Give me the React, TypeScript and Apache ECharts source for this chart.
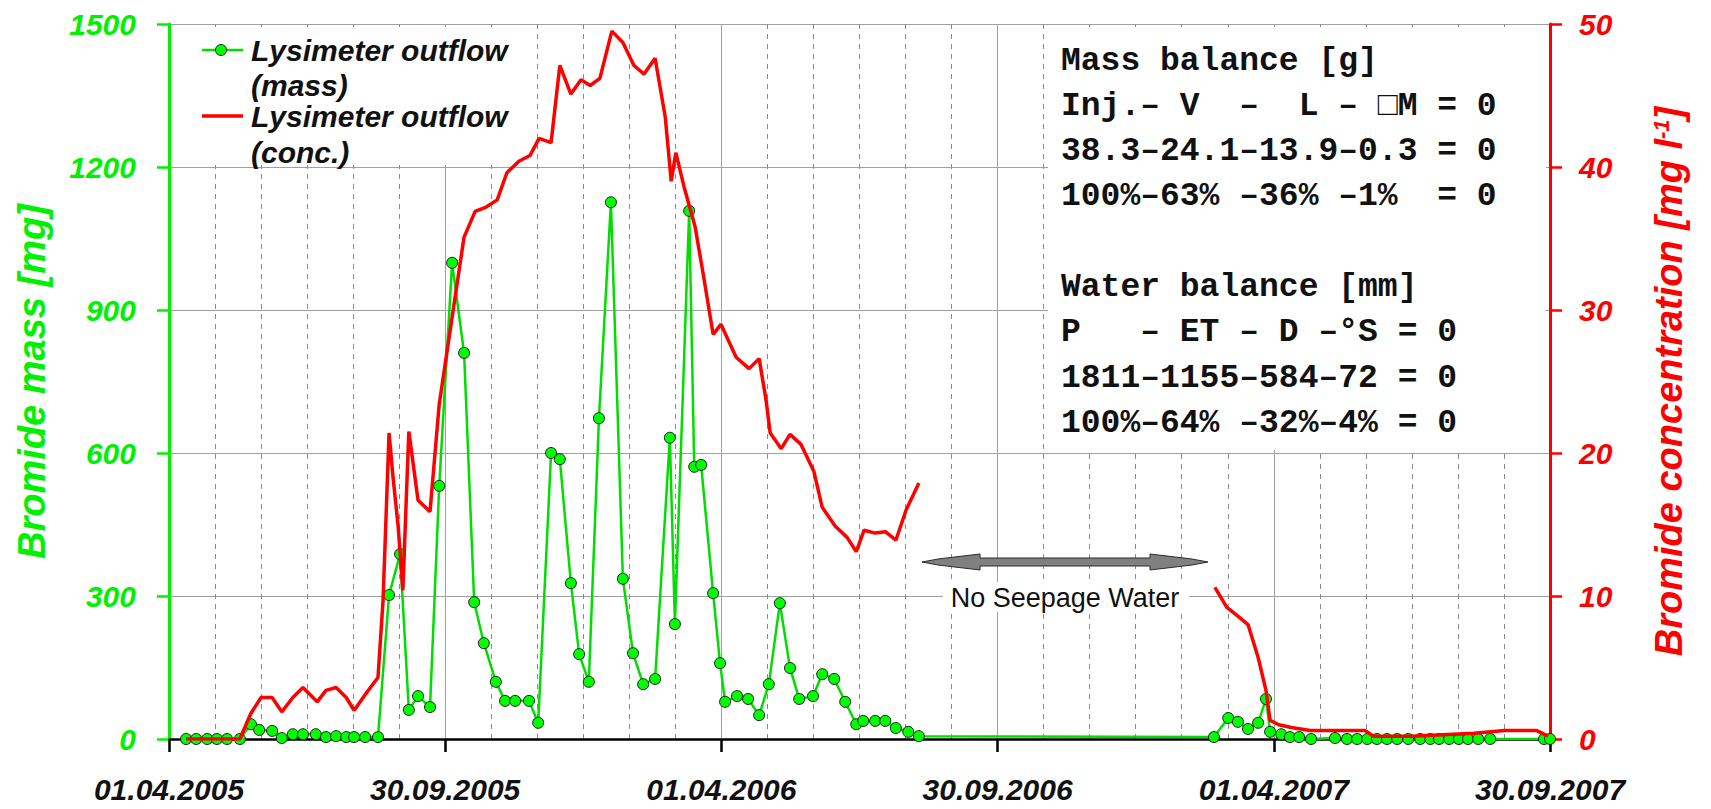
import React, { useEffect, useRef } from 'react';
import * as echarts from 'echarts';

// ---------- axes ----------
const monthTicks = [0, 6, 12, 18, 24, 30]; // months since 01.04.2005
const tickLabels = ['01.04.2005', '30.09.2005', '01.04.2006', '30.09.2006', '01.04.2007', '30.09.2007'];
const massAxis = { min: 0, max: 1500, step: 300 };
const concAxis = { min: 0, max: 50, step: 10 };

// ---------- series: [months since 01.04.2005, value] ----------
const massOutflow: [number, number][] = [
  [0.37, 0], [0.59, 0], [0.83, 0], [1.04, 0], [1.26, 0], [1.54, 0], [1.78, 31], [1.96, 19], [2.24, 17],
  [2.45, 2], [2.69, 10], [2.91, 10], [3.19, 10], [3.41, 4], [3.63, 6], [3.85, 4], [4.02, 4], [4.26, 4],
  [4.54, 4], [4.78, 302], [5.02, 388], [5.21, 61], [5.41, 90], [5.67, 67], [5.87, 531], [6.15, 999],
  [6.41, 810], [6.63, 287], [6.84, 201], [7.1, 120], [7.3, 80], [7.52, 80], [7.82, 80], [8.02, 34],
  [8.3, 600], [8.49, 587], [8.73, 327], [8.91, 178], [9.12, 120], [9.34, 673], [9.6, 1126], [9.86, 336],
  [10.08, 180], [10.3, 115], [10.56, 126], [10.88, 632], [10.99, 241], [11.3, 1108], [11.41, 571],
  [11.56, 575], [11.82, 306], [11.97, 159], [12.08, 78], [12.34, 90], [12.58, 84], [12.82, 50],
  [13.03, 115], [13.27, 285], [13.49, 149], [13.69, 84], [13.99, 90], [14.19, 136], [14.45, 126],
  [14.69, 78], [14.93, 31], [15.08, 38], [15.34, 38], [15.56, 38], [15.79, 23], [16.06, 15], [16.29, 6],
  [22.7, 4], [23.01, 44], [23.22, 36], [23.44, 21], [23.66, 34], [23.83, 84], [23.92, 15], [24.16, 10],
  [24.35, 4], [24.55, 4], [24.81, 0], [25.33, 2], [25.59, 0], [25.81, 0], [26.03, 0], [26.24, 0],
  [26.46, 0], [26.68, 0], [26.92, 0], [27.18, 0], [27.4, 0], [27.59, 0], [27.81, 0], [28.02, 0],
  [28.22, 0], [28.44, 0], [28.7, 0], [29.87, 0], [30, 0],
];

const concOutflow2005: [number, number][] = [
  [0.37, 0], [1.54, 0], [1.78, 1.8], [2.0, 2.9], [2.24, 2.9], [2.45, 1.9], [2.69, 2.9], [2.91, 3.6],
  [3.22, 2.6], [3.41, 3.4], [3.63, 3.6], [3.85, 2.9], [4.02, 2.0], [4.26, 3.1], [4.54, 4.3], [4.65, 9.7],
  [4.78, 21.4], [4.87, 18.2], [4.98, 14.8], [5.08, 10.4], [5.21, 21.5], [5.41, 16.7], [5.67, 15.9],
  [5.87, 23.4], [6.15, 29.5], [6.41, 35.1], [6.65, 36.9], [6.89, 37.2], [7.13, 37.7], [7.34, 39.6],
  [7.6, 40.4], [7.84, 40.8], [8.04, 42.0], [8.3, 41.7], [8.49, 47.1], [8.73, 45.1], [8.95, 46.1],
  [9.15, 45.7], [9.36, 46.2], [9.62, 49.5], [9.86, 48.7], [10.1, 47.1], [10.32, 46.5], [10.56, 47.6],
  [10.78, 43.5], [10.91, 39.0], [11.01, 41.0], [11.19, 38.6], [11.43, 35.8], [11.6, 32.6], [11.82, 28.3],
  [11.99, 29.0], [12.32, 26.7], [12.6, 25.9], [12.82, 26.6], [12.97, 23.7], [13.06, 21.4], [13.3, 20.3],
  [13.49, 21.3], [13.73, 20.6], [14.01, 18.7], [14.19, 16.2], [14.47, 14.9], [14.73, 14.1], [14.93, 13.1],
  [15.1, 14.6], [15.34, 14.4], [15.56, 14.5], [15.79, 13.9], [16.01, 16.0], [16.29, 17.9],
];

const concOutflow2007: [number, number][] = [
  [22.72, 10.6], [22.98, 9.2], [23.18, 8.7], [23.44, 8.0], [23.66, 5.7], [23.83, 3.4], [23.92, 1.3],
  [24.11, 1.0], [24.38, 0.8], [24.79, 0.6], [25.31, 0.6], [25.57, 0.6], [25.98, 0.6], [26.16, 0.2],
  [27.0, 0.2], [28.35, 0.4], [29.02, 0.6], [29.7, 0.6], [29.96, 0.2],
];

// ---------- annotation texts ----------
const legendNames = ['Lysimeter outflow', '(mass)', 'Lysimeter outflow', '(conc.)'];
const massBalanceLines = [
  'Mass balance [g]',
  'Inj.– V  –  L – □M = 0',
  '38.3–24.1–13.9–0.3 = 0',
  '100%–63% –36% –1%  = 0',
];
const waterBalanceLines = [
  'Water balance [mm]',
  'P   – ET – D –°S = 0',
  '1811–1155–584–72 = 0',
  '100%–64% –32%–4% = 0',
];
const gapLabel = 'No Seepage Water';

const GREEN = '#00f000';
const RED = '#ff0000';
const SANS = '"Liberation Sans", Arial, sans-serif';
const MONO = '"Liberation Mono", "Courier New", monospace';

const nb = (s: string) => s.replace(/ /g, '\u00A0');

function buildGraphic() {
  const els: any[] = [];
  // white backgrounds (cover grid lines)
  els.push({ type: 'rect', z: 1, shape: { x: 172, y: 27, width: 341, height: 138 }, style: { fill: '#fff' } });
  els.push({ type: 'rect', z: 1, shape: { x: 1048, y: 27, width: 498, height: 423 }, style: { fill: '#fff' } });
  els.push({ type: 'rect', z: 1, shape: { x: 943, y: 582, width: 246, height: 30 }, style: { fill: '#fff' } });

  // legend
  els.push({ type: 'line', z: 10, shape: { x1: 202, y1: 50, x2: 243, y2: 50 }, style: { stroke: '#00dd00', lineWidth: 2.5 } });
  els.push({ type: 'circle', z: 11, shape: { cx: 221, cy: 50, r: 5.5 }, style: { fill: '#00ff00', stroke: '#1a1a1a', lineWidth: 1 } });
  els.push({ type: 'line', z: 10, shape: { x1: 202, y1: 116, x2: 243, y2: 116 }, style: { stroke: RED, lineWidth: 3.5 } });
  const legendY = [50, 85.5, 116.5, 152];
  legendNames.forEach((t, i) => {
    els.push({
      type: 'text', z: 12, x: 251, y: legendY[i],
      style: {
        text: t, fill: '#111', font: `italic bold 30px ${SANS}`,
        textAlign: 'left', textVerticalAlign: 'middle', align: 'left', verticalAlign: 'middle',
      },
    });
  });

  // balance box text
  const lines = [...massBalanceLines, '', ...waterBalanceLines];
  lines.forEach((t, i) => {
    if (!t) return;
    els.push({
      type: 'text', z: 12, x: 1061, y: 61 + i * 45.3,
      style: {
        text: nb(t), fill: '#111', font: `bold 33px ${MONO}`,
        textAlign: 'left', textVerticalAlign: 'middle', align: 'left', verticalAlign: 'middle',
      },
    });
  });

  // double arrow
  els.push({
    type: 'polygon', z: 10,
    shape: {
      points: [
        [922, 562], [938, 559], [980, 554], [980, 558], [1150, 558], [1150, 554], [1192, 559], [1208, 562],
        [1192, 565], [1150, 570], [1150, 566], [980, 566], [980, 570], [938, 565],
      ],
    },
    style: { fill: '#808080', stroke: '#2a2a2a', lineWidth: 1 },
  });
  els.push({
    type: 'text', z: 12, x: 1065, y: 598,
    style: {
      text: gapLabel, fill: '#111', font: `27px ${SANS}`,
      textAlign: 'center', textVerticalAlign: 'middle', align: 'center', verticalAlign: 'middle',
    },
  });
  return els;
}

export default function App() {
  const ref = useRef<HTMLDivElement>(null);
  useEffect(() => {
    const chart = echarts.init(ref.current!, null, { renderer: 'svg' });
    const boldItalic = { fontWeight: 'bold', fontStyle: 'italic', fontFamily: SANS };
    chart.setOption({
      animation: false,
      backgroundColor: '#fff',
      grid: { left: 169, right: 161, top: 24, bottom: 70, containLabel: false, outerBoundsMode: 'none' },
      xAxis: {
        type: 'value', min: 0, max: 30, interval: 6, position: 'bottom',
        axisLine: { show: true, onZero: false, lineStyle: { color: '#000', width: 2.5 } },
        axisTick: { show: true, length: 13, lineStyle: { color: '#000', width: 2.5 } },
        minorTick: { show: false, splitNumber: 6 },
        axisLabel: {
          show: true, margin: 35, fontSize: 30, color: '#111', ...boldItalic,
          formatter: (v: number) => {
            const i = monthTicks.indexOf(Math.round(v));
            return i >= 0 ? tickLabels[i] : '';
          },
        },
        splitLine: { show: true, lineStyle: { color: '#a0a0a0', width: 1 } },
        minorSplitLine: { show: true, lineStyle: { color: '#8a8a8a', width: 1, type: [5, 5] } },
      },
      yAxis: [
        {
          type: 'value', min: massAxis.min, max: massAxis.max, interval: massAxis.step, position: 'left',
          name: 'Bromide mass [mg]', nameLocation: 'middle', nameRotate: 90, nameGap: 118,
          nameTextStyle: { color: GREEN, fontSize: 38, ...boldItalic },
          axisLine: { show: true, onZero: false, lineStyle: { color: GREEN, width: 3 } },
          axisTick: { show: true, length: 12, lineStyle: { color: GREEN, width: 2.5 } },
          axisLabel: { color: GREEN, fontSize: 30, margin: 33, ...boldItalic, formatter: (v: number) => String(v) },
          splitLine: { show: true, lineStyle: { color: '#a0a0a0', width: 1 } },
        },
        {
          type: 'value', min: concAxis.min, max: concAxis.max, interval: concAxis.step, position: 'right',
          name: 'Bromide concentration [mg l{sup|-1}]', nameLocation: 'middle', nameRotate: 90, nameGap: 100,
          nameTextStyle: {
            color: RED, fontSize: 38, ...boldItalic,
            rich: { sup: { color: RED, fontSize: 22, ...boldItalic, verticalAlign: 'top' } },
          },
          axisLine: { show: true, onZero: false, lineStyle: { color: RED, width: 3 } },
          axisTick: { show: true, length: 12, lineStyle: { color: RED, width: 2.5 } },
          axisLabel: { color: RED, fontSize: 30, margin: 29, ...boldItalic, formatter: (v: number) => String(v) },
          splitLine: { show: false },
        },
      ],
      series: [
        {
          type: 'line', name: 'Lysimeter outflow (mass)', xAxisIndex: 0, yAxisIndex: 0, data: massOutflow,
          symbol: 'circle', symbolSize: 11, showSymbol: true, z: 3,
          itemStyle: { color: '#00ff00', borderColor: '#1a1a1a', borderWidth: 1 },
          lineStyle: { color: '#00dd00', width: 2.5 },
        },
        {
          type: 'line', name: 'Lysimeter outflow (conc.)', xAxisIndex: 0, yAxisIndex: 1, data: concOutflow2005,
          symbol: 'none', z: 4, lineStyle: { color: RED, width: 3.5 },
        },
        {
          type: 'line', name: 'Lysimeter outflow (conc.) 2007', xAxisIndex: 0, yAxisIndex: 1, data: concOutflow2007,
          symbol: 'none', z: 4, lineStyle: { color: RED, width: 3.5 },
        },
      ],
      graphic: { elements: buildGraphic() },
    });
    return () => chart.dispose();
  }, []);
  return (
    <div
      ref={ref}
      style={{ position: 'fixed', left: 0, top: 0, width: '1711px', height: '809px', background: '#fff' }}
    />
  );
}
